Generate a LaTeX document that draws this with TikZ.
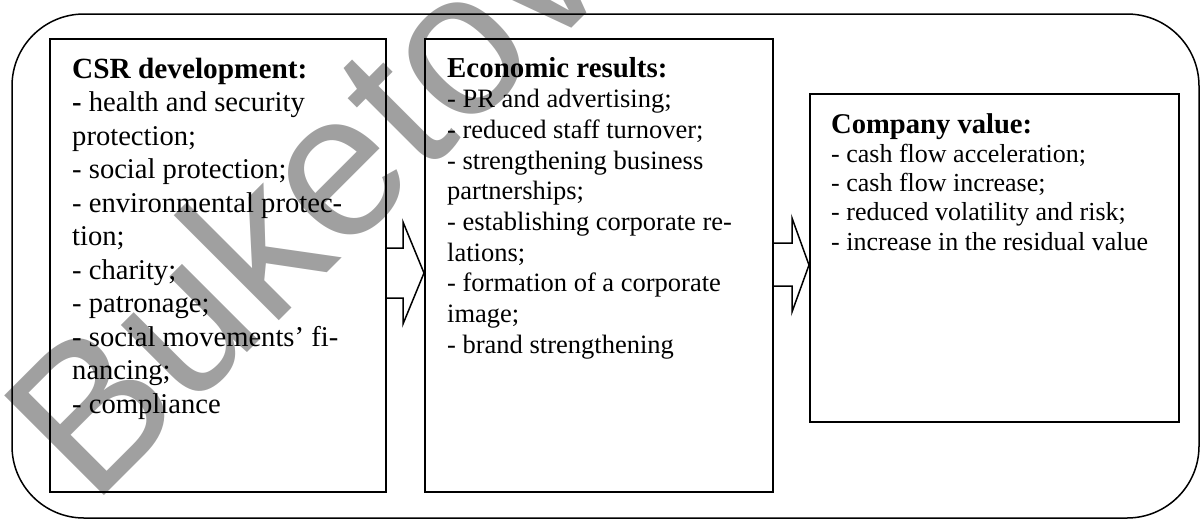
\documentclass[tikz,border=0pt]{standalone}
\usepackage{fontspec}
\setmainfont{Liberation Serif}
\newfontfamily\wmfont{Liberation Sans}
\definecolor{wmgray}{RGB}{160,160,160}
\newcommand{\boxlines}[3]{\fontsize{#1}{#2}\selectfont\vtop{#3}}
\begin{document}
\begin{tikzpicture}[x=1pt,y=-1pt,
  frame/.style={draw,line width=1.5pt,rounded corners=72pt},
  panel/.style={draw,line width=2pt,rectangle,inner sep=0pt,fill=none},
  txt/.style={anchor=base west,inner sep=0pt,align=left},
  blockarrow/.style={draw,line width=1.5pt,fill=white,line join=miter}]
\useasboundingbox (0,0) rectangle (1201,520);
% watermark
\begin{scope}
\clip (0,0) rectangle (1201,520);
\node[rotate=45,text=wmgray,inner sep=0pt,anchor=base west] (wm) at (92,508) {\wmfont\fontsize{205}{205}\selectfont Buketov};
\end{scope}
% outer frame
\draw[frame] (12,14) rectangle (1199,518);
% boxes
\node[panel,minimum width=336pt,minimum height=453pt] (b1) at (218,265.5) {};
\node[panel,minimum width=348pt,minimum height=453pt] (b2) at (599,265.5) {};
\node[panel,minimum width=369pt,minimum height=328pt] (b3) at (994.5,258) {};
% texts
\node[txt] (t1) at (72,78) {\boxlines{28.6}{33.5}{%
\hbox{\fontsize{29.3}{33.5}\selectfont\textbf{CSR development:}}
\hbox{\textbf{-} health and security}
\hbox{protection;}
\hbox{- social protection;}
\hbox{- environmental protec-}
\hbox{tion;}
\hbox{- charity;}
\hbox{- patronage;}
\hbox{- social movements’ fi-}
\hbox{nancing;}
\hbox{- compliance}}};
\node[txt] (t2) at (447,77) {\boxlines{26.5}{30.7}{%
\hbox{\fontsize{28.9}{30.7}\selectfont\textbf{Economic results:}}
\hbox{- PR and advertising;}
\hbox{- reduced staff turnover;}
\hbox{- strengthening business}
\hbox{partnerships;}
\hbox{- establishing corporate re-}
\hbox{lations;}
\hbox{- formation of a corporate}
\hbox{image;}
\hbox{- brand strengthening}}};
\node[txt] (t3) at (831,133) {\boxlines{26}{29.3}{%
\hbox{\fontsize{28.6}{29.3}\selectfont\textbf{Company value:}}
\hbox{- cash flow acceleration;}
\hbox{- cash flow increase;}
\hbox{- reduced volatility and risk;}
\hbox{- increase in the residual value}}};
% block arrows
\draw[blockarrow] (b1.east |- 0,248) -- (403,248) -- (403,222) -- (b2.west |- 0,273)
  -- (403,324) -- (403,298) -- (b1.east |- 0,298);
\draw[blockarrow] (b2.east |- 0,243) -- (792,243) -- (792,218) -- (b3.west |- 0,265)
  -- (792,312) -- (792,286) -- (b2.east |- 0,286);
\end{tikzpicture}
\end{document}
